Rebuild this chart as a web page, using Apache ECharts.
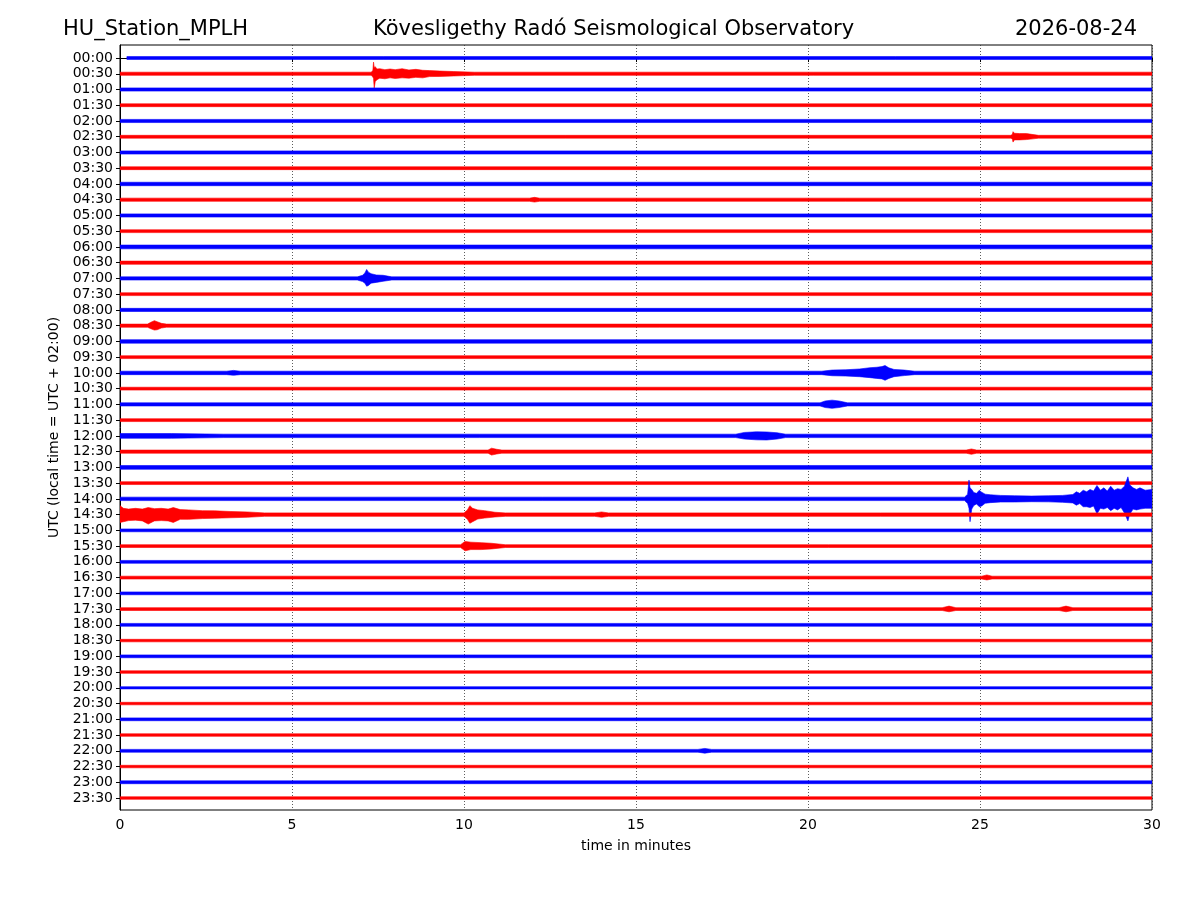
<!DOCTYPE html>
<html>
<head>
<meta charset="utf-8">
<script src="https://cdn.jsdelivr.net/npm/echarts@6/dist/echarts.min.js"></script>
<style>
  html, body { margin: 0; padding: 0; background: #fff; }
  #chart { width: 1200px; height: 900px; }
</style>
</head>
<body>
<div id="chart"></div>
<script>
// one trace every 30 minutes, 48 rows
const hourLabels = [
    "00:00", "00:30", "01:00", "01:30", "02:00", "02:30", "03:00", "03:30",
    "04:00", "04:30", "05:00", "05:30", "06:00", "06:30", "07:00", "07:30",
    "08:00", "08:30", "09:00", "09:30", "10:00", "10:30", "11:00", "11:30",
    "12:00", "12:30", "13:00", "13:30", "14:00", "14:30", "15:00", "15:30",
    "16:00", "16:30", "17:00", "17:30", "18:00", "18:30", "19:00", "19:30",
    "20:00", "20:30", "21:00", "21:30", "22:00", "22:30", "23:00", "23:30"
];
const xTicks = [0, 5, 10, 15, 20, 25, 30];

// background noise half-width of each trace, in trace spacings
const noiseLevel = [
    0.09, 0.10, 0.10, 0.09, 0.10, 0.09, 0.10, 0.09,
    0.11, 0.10, 0.10, 0.09, 0.12, 0.10, 0.10, 0.09,
    0.10, 0.10, 0.11, 0.09, 0.11, 0.09, 0.10, 0.09,
    0.11, 0.10, 0.12, 0.09, 0.11, 0.11, 0.09, 0.09,
    0.09, 0.09, 0.09, 0.09, 0.09, 0.08, 0.09, 0.08,
    0.07, 0.08, 0.09, 0.08, 0.09, 0.08, 0.09, 0.08
];
const firstTraceStart = 0.2;

// envelopes: [minute, up, down]
const ev0030 = [[7.3, 0.1, 0.1], [7.35, 0.2, 0.2], [7.37, 0.74, 0.3], [7.39, 0.4, 0.91], [7.42, 0.45, 0.5],
    [7.47, 0.3, 0.38], [7.55, 0.32, 0.28], [7.7, 0.26, 0.32], [7.85, 0.3, 0.26], [8.0, 0.26, 0.3],
    [8.2, 0.32, 0.26], [8.4, 0.24, 0.28], [8.6, 0.28, 0.23], [8.8, 0.22, 0.26], [9.0, 0.2, 0.18],
    [9.3, 0.17, 0.17], [9.7, 0.14, 0.14], [10.3, 0.1, 0.1]];
const ev0230 = [[25.9, 0.09, 0.09], [25.94, 0.15, 0.15], [25.96, 0.32, 0.34], [26.0, 0.22, 0.2],
    [26.15, 0.2, 0.2], [26.35, 0.2, 0.18], [26.6, 0.12, 0.12], [26.7, 0.09, 0.09]];
const ev0430 = [[11.9, 0.1, 0.1], [12.05, 0.15, 0.15], [12.2, 0.1, 0.1]];
const ev0700 = [[6.9, 0.1, 0.1], [7.05, 0.2, 0.2], [7.12, 0.35, 0.3], [7.17, 0.57, 0.49], [7.22, 0.4, 0.45],
    [7.3, 0.3, 0.3], [7.45, 0.22, 0.25], [7.65, 0.2, 0.18], [7.9, 0.1, 0.1]];
const ev0830 = [[0.8, 0.1, 0.1], [0.9, 0.22, 0.2], [1.0, 0.32, 0.28], [1.08, 0.25, 0.26], [1.2, 0.15, 0.15], [1.35, 0.1, 0.1]];
const ev1000a = [[3.1, 0.11, 0.11], [3.3, 0.16, 0.15], [3.5, 0.11, 0.11]];
const ev1000b = [[20.4, 0.11, 0.11], [20.7, 0.18, 0.18], [21.1, 0.2, 0.2], [21.5, 0.25, 0.24], [21.8, 0.33, 0.3],
    [22.0, 0.36, 0.35], [22.15, 0.4, 0.38], [22.24, 0.47, 0.47], [22.35, 0.32, 0.35], [22.5, 0.22, 0.24],
    [22.8, 0.18, 0.17], [23.1, 0.11, 0.11]];
const ev1100 = [[20.35, 0.1, 0.1], [20.5, 0.22, 0.2], [20.7, 0.27, 0.25], [20.9, 0.22, 0.2], [21.15, 0.1, 0.1]];
const ev1200a = [[0, 0.15, 0.15], [1.5, 0.15, 0.15], [3.0, 0.11, 0.11]];
const ev1200b = [[17.9, 0.11, 0.11], [18.15, 0.22, 0.2], [18.5, 0.26, 0.25], [18.8, 0.25, 0.26], [19.1, 0.2, 0.2], [19.35, 0.11, 0.11]];
const ev1230a = [[10.7, 0.1, 0.1], [10.8, 0.22, 0.22], [10.95, 0.15, 0.15], [11.1, 0.1, 0.1]];
const ev1230b = [[24.6, 0.1, 0.1], [24.75, 0.17, 0.17], [24.9, 0.1, 0.1]];
const ev1400 = [[24.55, 0.11, 0.11], [24.64, 0.3, 0.3], [24.68, 1.2, 0.6], [24.71, 0.7, 1.45], [24.76, 0.6, 0.65],
    [24.82, 0.4, 0.42], [24.9, 0.35, 0.32], [24.98, 0.55, 0.5], [25.05, 0.42, 0.45], [25.15, 0.3, 0.28],
    [25.3, 0.26, 0.24], [25.6, 0.22, 0.2], [26.0, 0.2, 0.2], [26.5, 0.18, 0.18], [27.0, 0.2, 0.19],
    [27.4, 0.22, 0.22], [27.7, 0.28, 0.26], [27.8, 0.45, 0.4], [27.9, 0.35, 0.3], [28.0, 0.55, 0.5],
    [28.1, 0.45, 0.5], [28.2, 0.6, 0.55], [28.3, 0.5, 0.45], [28.4, 0.85, 0.95], [28.5, 0.55, 0.6],
    [28.6, 0.7, 0.65], [28.7, 0.5, 0.55], [28.8, 0.8, 0.75], [28.9, 0.55, 0.6], [29.0, 0.65, 0.7],
    [29.1, 0.6, 0.55], [29.2, 0.8, 0.9], [29.3, 1.4, 1.4], [29.35, 0.9, 1.0], [29.45, 0.7, 0.65],
    [29.55, 0.6, 0.7], [29.65, 0.7, 0.65], [29.8, 0.55, 0.6], [30, 0.6, 0.6]];
const ev1430a = [[0, 0.57, 0.5], [0.1, 0.4, 0.45], [0.25, 0.35, 0.38], [0.45, 0.4, 0.35], [0.65, 0.35, 0.4],
    [0.82, 0.45, 0.6], [1.0, 0.38, 0.4], [1.2, 0.4, 0.38], [1.4, 0.35, 0.4], [1.55, 0.45, 0.5],
    [1.75, 0.32, 0.3], [2.0, 0.3, 0.3], [2.4, 0.25, 0.25], [2.75, 0.24, 0.23], [3.2, 0.2, 0.2],
    [3.7, 0.17, 0.17], [4.2, 0.11, 0.11]];
const ev1430b = [[10.0, 0.11, 0.11], [10.1, 0.3, 0.3], [10.17, 0.57, 0.55], [10.25, 0.4, 0.45], [10.4, 0.3, 0.28],
    [10.6, 0.25, 0.22], [10.9, 0.15, 0.15], [11.2, 0.11, 0.11]];
const ev1430c = [[13.8, 0.11, 0.11], [14.0, 0.17, 0.17], [14.2, 0.11, 0.11]];
const ev1530 = [[9.9, 0.09, 0.09], [10.03, 0.3, 0.3], [10.2, 0.25, 0.22], [10.5, 0.22, 0.22], [10.8, 0.18, 0.18], [11.2, 0.09, 0.09]];
const ev1630 = [[25.05, 0.09, 0.09], [25.2, 0.17, 0.15], [25.35, 0.09, 0.09]];
const ev1730a = [[23.9, 0.09, 0.09], [24.1, 0.19, 0.17], [24.3, 0.09, 0.09]];
const ev1730b = [[27.3, 0.09, 0.09], [27.5, 0.19, 0.17], [27.7, 0.09, 0.09]];
const ev2200 = [[16.8, 0.09, 0.09], [17.0, 0.15, 0.15], [17.2, 0.09, 0.09]];

// which trace each event belongs to
const traceEvents = [
    [1, ev0030], [5, ev0230], [9, ev0430], [14, ev0700], [17, ev0830],
    [20, ev1000a], [20, ev1000b], [22, ev1100], [24, ev1200a], [24, ev1200b],
    [25, ev1230a], [25, ev1230b], [28, ev1400], [29, ev1430a], [29, ev1430b], [29, ev1430c],
    [31, ev1530], [33, ev1630], [35, ev1730a], [35, ev1730b], [44, ev2200]
];

const traceColors = ["#0000ff", "#ff0000"];

function buildEnvelope(i) {
    const n = noiseLevel[i];
    const start = i === 0 ? firstTraceStart : 0;
    let pts = [];
    traceEvents.forEach(([t, ev]) => {
        if (t === i) pts = pts.concat(ev);
    });
    pts.sort((a, b) => a[0] - b[0]);
    if (!pts.length || pts[0][0] > start) pts.unshift([start, n, n]);
    if (pts[pts.length - 1][0] < 30) pts.push([30, n, n]);
    return pts;
}

const envelopes = hourLabels.map((_, i) => buildEnvelope(i));

const chart = echarts.init(document.getElementById("chart"));
const font = "DejaVu Sans";
const titleStyle = { fontFamily: font, fontSize: 21, fontWeight: "normal", color: "#000" };

chart.setOption({
    animation: false,
    backgroundColor: "#fff",
    textStyle: { fontFamily: font },
    title: [
        { text: "HU_Station_MPLH", left: 63, top: 19, padding: 0, textStyle: titleStyle },
        { text: "Kövesligethy Radó Seismological Observatory", left: 373, top: 19, padding: 0, textStyle: titleStyle },
        { text: "2026-08-24", right: 63, top: 19, padding: 0, textStyle: titleStyle }
    ],
    grid: {
        left: 120, right: 48, top: 45, bottom: 90,
        show: true, borderColor: "#000", borderWidth: 1, backgroundColor: "transparent"
    },
    xAxis: {
        type: "value",
        min: 0, max: 30, interval: 5,
        name: "time in minutes",
        nameLocation: "middle",
        nameGap: 29,
        nameTextStyle: { fontFamily: font, fontSize: 14, color: "#000" },
        axisLine: { show: true, lineStyle: { color: "#000", width: 1 } },
        axisTick: { show: true, length: 4, lineStyle: { color: "#000" } },
        axisLabel: { fontFamily: font, fontSize: 14, color: "#000", margin: 8,
            customValues: xTicks, formatter: v => String(v) },
        splitLine: { show: true, lineStyle: { color: "#333", width: 0.8, type: [1, 2] } }
    },
    yAxis: {
        type: "value",
        inverse: true,
        min: -0.826, max: 47.76,
        name: "UTC (local time = UTC + 02:00)",
        nameLocation: "middle",
        nameGap: 53,
        nameRotate: 90,
        nameTextStyle: { fontFamily: font, fontSize: 14, color: "#000" },
        axisLine: { show: true, lineStyle: { color: "#000", width: 1 } },
        axisTick: { show: true, length: 4, lineStyle: { color: "#000" },
            customValues: hourLabels.map((_, i) => i) },
        axisLabel: { fontFamily: font, fontSize: 14, color: "#000", margin: 7,
            customValues: hourLabels.map((_, i) => i),
            formatter: v => hourLabels[Math.round(v)] },
        splitLine: { show: false }
    },
    series: [{
        type: "custom",
        clip: true,
        data: hourLabels.map((_, i) => [i]),
        encode: { y: 0 },
        renderItem: (params, api) => {
            const i = api.value(0);
            const env = envelopes[i];
            const upper = env.map(p => api.coord([p[0], i - p[1]]));
            const lower = env.slice().reverse().map(p => api.coord([p[0], i + p[2]]));
            const color = traceColors[i % 2];
            return {
                type: "polygon",
                shape: { points: upper.concat(lower) },
                style: { fill: color, stroke: color, lineWidth: 0.6 }
            };
        }
    }]
});
</script>
</body>
</html>
